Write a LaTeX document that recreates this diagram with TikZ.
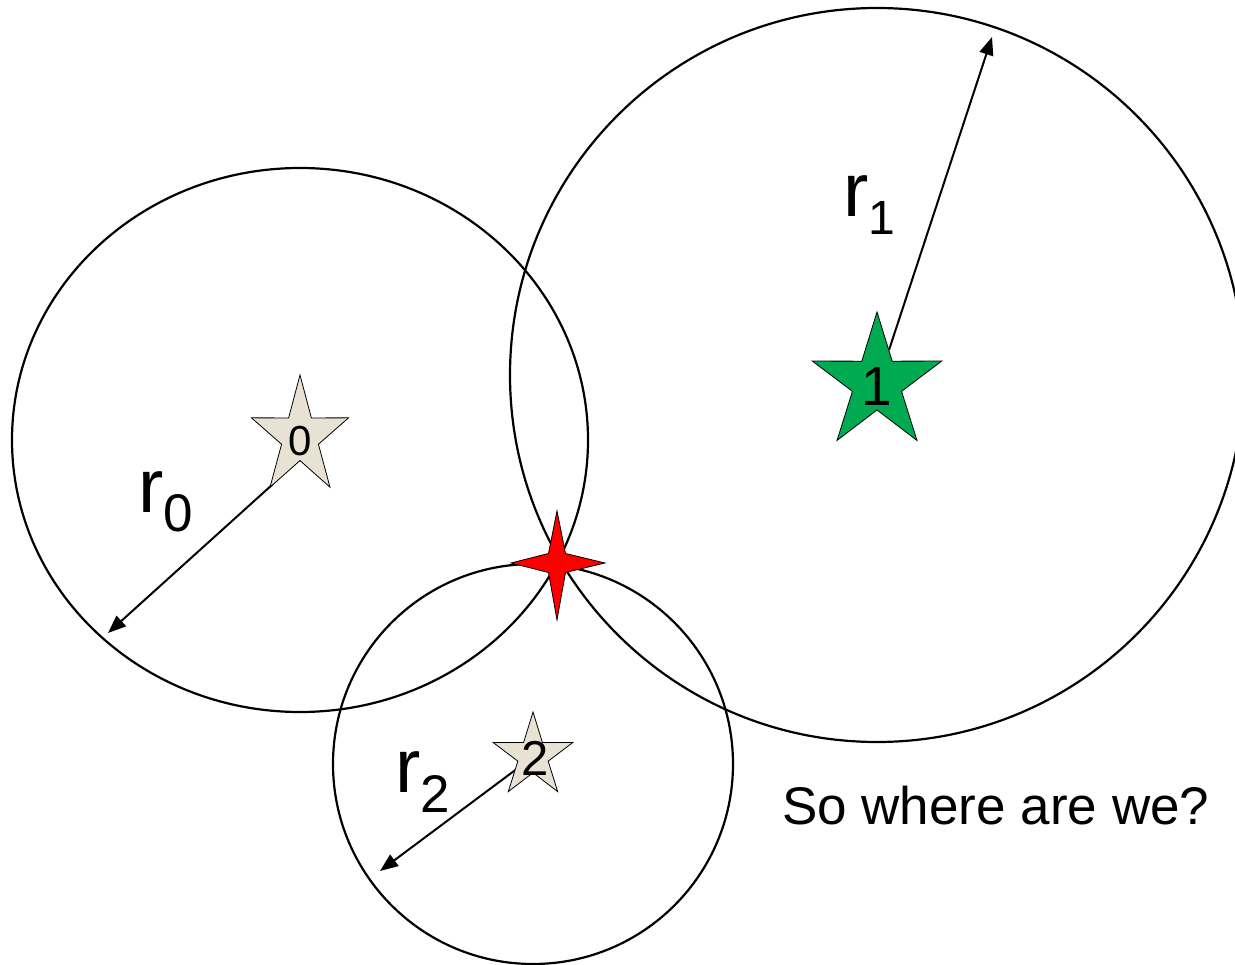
\documentclass[tikz,border=0pt]{standalone}
\usepackage{fontspec}
\setmainfont{Liberation Sans}
\usetikzlibrary{arrows.meta}
\definecolor{beige}{RGB}{232,226,212}
\definecolor{stargreen}{RGB}{0,170,80}
\tikzset{
  ring/.style={draw=black, line width=2.2pt},
  radius arrow/.style={draw=black, line width=2pt, -{Triangle[length=18pt,width=14pt]}},
  starline/.style={draw=black, line width=0.8pt},
}
\newcommand\fivestar[5]{% cx cy rx ry fill
  \filldraw[starline, fill=#5, shift={(#1,#2)}]
    (-90:#3 and #4)
    \foreach \a/\f in {-54/0.38,-18/1,18/0.38,54/1,90/0.38,126/1,162/0.38,198/1,234/0.38}{
      -- (\a:{\f*#3} and {\f*#4})
    } -- cycle;
}
\begin{document}
\begin{tikzpicture}[x=1pt, y=-1pt]
\useasboundingbox (0,0) rectangle (1235,965);
\fill[white] (0,0) rectangle (1235,965);

% circles
\draw[ring] (300,440) ellipse [x radius=288, y radius=272];
\draw[ring] (877,375) circle [radius=367];
\draw[ring] (533,764) circle [radius=200];

% arrow end points
\coordinate (a0s) at (273,484);
\coordinate (a0e) at (108,633);
\coordinate (a1s) at (889,350);
\coordinate (a1e) at (992,37);
\coordinate (a2s) at (518,768);
\coordinate (a2e) at (380,871);
\draw[radius arrow] (a0s) -- (a0e);
\draw[radius arrow] (a1s) -- (a1e);
\draw[radius arrow] (a2s) -- (a2e);

% stars
\fivestar{300}{437}{51}{62}{beige}
\fivestar{877}{383}{68}{71}{stargreen}
\fivestar{533}{756}{42}{44}{beige}

\node[inner sep=0pt] (s0) at (300,441) {\fontsize{42}{42}\selectfont 0};
\node[inner sep=0pt] (s1) at (877,387) {\fontsize{55}{55}\selectfont 1};
\node[inner sep=0pt] (s2) at (535,758) {\fontsize{49}{49}\selectfont 2};

% red position marker
\filldraw[starline, fill=red] (557,511) -- (565.5,553.5) -- (605,563) -- (565.5,572.5)
  -- (557,620) -- (548.5,572.5) -- (511,563) -- (548.5,553.5) -- cycle;

% labels
\node[inner sep=0pt, anchor=base west] (r0) at (138,512)
  {\fontsize{76}{76}\selectfont r\fontsize{53}{53}\selectfont\raisebox{-20pt}{0}};
\node[inner sep=0pt, anchor=base west] (r1) at (843,217)
  {\fontsize{76}{76}\selectfont r\fontsize{48}{48}\selectfont\raisebox{-18pt}{1}};
\node[inner sep=0pt, anchor=base west] (r2) at (395,792)
  {\fontsize{76}{76}\selectfont r\fontsize{53}{53}\selectfont\raisebox{-20pt}{2}};

\node[inner sep=0pt, anchor=base west] (q) at (782,824)
  {\fontsize{53}{53}\selectfont So where are we?};
\end{tikzpicture}
\end{document}
